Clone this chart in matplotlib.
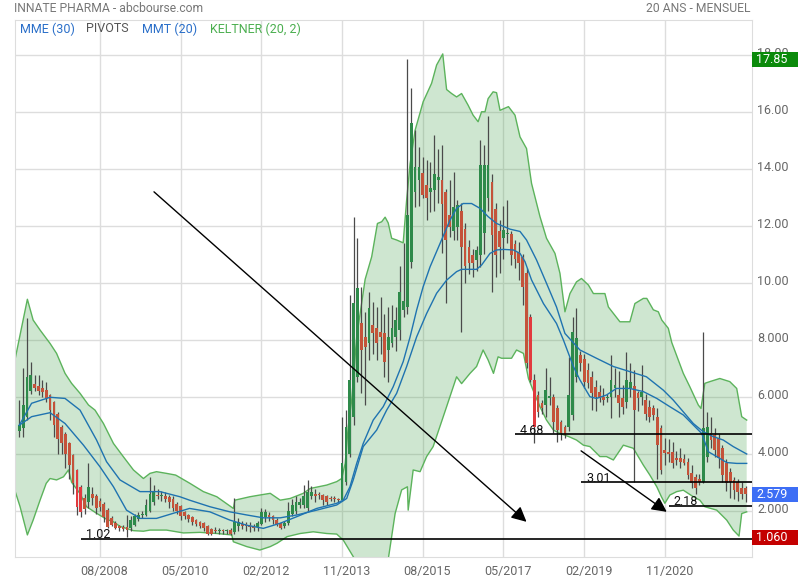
import matplotlib
matplotlib.use("Agg")
import matplotlib.pyplot as plt
import matplotlib.transforms as mtransforms
from matplotlib.patches import Rectangle
import numpy as np

plt.rcParams['font.family'] = ['Roboto', 'DejaVu Sans']

# monthly candles, index 0 = 11/2006, last = 08/2022
opens = [4.80, 4.90, 5.30, 6.20, 6.45, 6.37, 6.29, 6.23, 6.06, 5.82,
         5.40, 4.95, 4.70, 4.37, 3.96, 3.43, 2.84, 2.44, 2.30, 2.58,
         2.50, 2.35, 2.23, 2.02, 1.73, 1.58, 1.46, 1.44, 1.44, 1.38,
         1.50, 1.70, 1.84, 1.84, 2.00, 2.30, 2.55, 2.50, 2.50, 2.49,
         2.40, 2.25, 2.15, 1.95, 1.85, 1.78, 1.67, 1.62, 1.56, 1.48,
         1.35, 1.30, 1.29, 1.30, 1.28, 1.32, 1.25, 1.45, 1.55, 1.52,
         1.50, 1.47, 1.44, 1.55, 1.77, 1.85, 1.80, 1.67, 1.56, 1.48,
         1.56, 1.90, 2.00, 2.20, 2.20, 2.08, 2.50, 2.60, 2.56, 2.55,
         2.50, 2.43, 2.42, 2.40, 2.38, 3.00, 4.00, 5.30, 6.70, 8.58,
         8.10, 7.87, 8.51, 8.40, 8.28, 8.22, 7.64, 7.87, 8.10, 8.34,
         9.04, 9.16, 10.74, 13.19, 13.60, 13.86, 13.43, 13.20, 13.25, 13.60,
         13.60, 13.19, 12.38, 11.83, 11.97, 12.50, 11.90, 11.26, 10.97, 10.80,
         10.97, 11.76, 12.96, 13.54, 12.60, 11.80, 11.56, 11.70, 11.70, 11.36,
         11.08, 10.89, 10.35, 8.81, 6.60, 6.06, 5.77, 5.71, 5.94, 5.98,
         5.59, 5.13, 4.95, 4.95, 5.36, 6.70, 7.46, 7.31, 6.94, 6.70,
         6.35, 6.18, 6.00, 5.95, 6.00, 6.29, 6.06, 5.94, 5.83, 6.29,
         6.37, 6.12, 6.00, 5.88, 5.65, 5.59, 5.30, 4.89, 4.13, 4.07,
         4.07, 3.84, 3.84, 3.81, 3.72, 3.31, 3.19, 3.13, 3.02, 3.89,
         4.71, 4.66, 4.54, 4.19, 3.66, 3.37, 3.08, 3.02, 2.80, 2.78]
highs = [5.90, 7.00, 8.75, 7.23, 6.76, 6.76, 6.60, 6.50, 6.10, 5.85,
         5.45, 5.00, 4.75, 4.40, 4.00, 3.45, 2.90, 2.60, 3.66, 2.84,
         2.60, 2.45, 2.30, 2.10, 1.80, 1.65, 1.50, 1.50, 1.85, 1.80,
         1.90, 1.95, 2.00, 2.40, 3.20, 2.90, 2.75, 2.70, 2.65, 2.55,
         2.50, 2.30, 2.20, 2.00, 1.90, 1.80, 1.70, 1.65, 1.60, 1.50,
         1.40, 1.42, 1.40, 1.35, 1.35, 1.40, 2.43, 1.75, 1.65, 1.60,
         1.60, 1.55, 1.65, 2.10, 2.05, 1.95, 1.85, 1.75, 1.60, 1.65,
         2.30, 2.40, 2.50, 2.45, 2.90, 3.08, 2.85, 2.75, 2.65, 2.60,
         2.55, 2.50, 2.50, 2.45, 5.30, 5.53, 9.57, 12.30, 11.56, 9.86,
         8.98, 9.68, 9.33, 9.16, 9.50, 8.92, 9.16, 9.22, 9.16, 10.60,
         11.38, 17.85, 16.82, 15.35, 14.77, 14.42, 14.30, 14.25, 15.18, 14.70,
         14.83, 13.30, 13.60, 13.89, 12.90, 12.80, 12.10, 11.50, 11.20, 11.30,
         15.00, 14.83, 15.85, 13.80, 12.80, 12.20, 12.70, 12.90, 11.80, 11.50,
         11.44, 11.00, 10.50, 8.90, 6.80, 6.20, 5.90, 7.00, 6.70, 6.10,
         5.70, 5.20, 5.00, 7.40, 8.81, 9.10, 7.60, 7.50, 7.20, 6.90,
         6.60, 6.40, 6.30, 6.10, 7.46, 7.00, 6.90, 6.40, 7.57, 7.20,
         6.94, 6.20, 7.10, 6.10, 5.90, 5.70, 5.60, 5.00, 4.54, 4.50,
         4.40, 4.10, 4.20, 4.00, 3.85, 3.60, 3.30, 3.30, 8.28, 5.47,
         5.30, 4.90, 4.70, 4.30, 3.80, 3.50, 3.20, 3.10, 3.00, 2.85]
lows = [4.60, 4.60, 5.20, 6.10, 6.20, 6.06, 6.00, 5.80, 5.20, 4.60,
        4.00, 4.00, 3.50, 3.13, 2.60, 1.85, 1.79, 1.90, 2.10, 2.20,
        1.90, 2.00, 1.62, 1.40, 1.45, 1.35, 1.30, 1.30, 1.06, 1.30,
        1.45, 1.65, 1.75, 1.80, 1.95, 2.20, 2.40, 2.35, 2.30, 2.10,
        2.00, 1.90, 1.67, 1.70, 1.60, 1.50, 1.45, 1.40, 1.30, 1.15,
        1.15, 1.22, 1.20, 1.20, 1.20, 1.15, 1.20, 1.30, 1.35, 1.30,
        1.25, 1.30, 1.30, 1.50, 1.60, 1.65, 1.55, 1.45, 1.35, 1.40,
        1.50, 1.80, 1.90, 2.10, 2.10, 2.00, 2.40, 2.30, 2.40, 2.20,
        2.20, 2.35, 2.30, 2.30, 2.35, 2.90, 3.90, 5.00, 6.50, 6.12,
        5.71, 7.29, 7.50, 7.30, 7.50, 6.70, 6.50, 7.75, 7.60, 8.00,
        8.80, 8.90, 10.50, 12.67, 12.70, 12.96, 12.20, 12.49, 12.50, 12.80,
        11.03, 9.28, 11.60, 11.50, 11.50, 8.28, 9.98, 10.30, 10.20, 10.40,
        10.56, 11.00, 12.50, 9.68, 10.21, 10.33, 10.85, 11.40, 10.62, 10.50,
        10.10, 9.21, 7.00, 6.50, 4.36, 5.30, 5.40, 5.30, 5.70, 4.71,
        4.42, 4.48, 4.54, 4.80, 5.20, 6.50, 6.90, 6.30, 6.30, 5.53,
        5.50, 5.80, 5.70, 5.80, 5.24, 6.00, 5.30, 5.40, 5.60, 6.00,
        3.01, 5.50, 5.70, 5.20, 5.10, 5.20, 3.10, 3.30, 3.60, 3.70,
        3.50, 3.60, 3.50, 3.60, 3.10, 2.80, 2.60, 2.90, 2.98, 3.70,
        4.20, 3.90, 3.50, 3.00, 2.70, 2.45, 2.40, 2.35, 2.40, 2.30]
closes = [5.00, 5.70, 6.70, 6.76, 6.29, 6.20, 6.17, 5.97, 5.53, 5.00,
          4.53, 4.36, 4.00, 3.60, 2.96, 2.14, 1.96, 2.05, 2.84, 2.43,
          2.08, 2.14, 1.79, 1.44, 1.50, 1.38, 1.38, 1.35, 1.32, 1.67,
          1.81, 1.84, 1.90, 2.20, 2.60, 2.70, 2.50, 2.52, 2.40, 2.30,
          2.10, 2.00, 1.82, 1.80, 1.70, 1.60, 1.55, 1.48, 1.38, 1.20,
          1.20, 1.29, 1.30, 1.28, 1.29, 1.20, 1.60, 1.60, 1.45, 1.48,
          1.44, 1.38, 1.56, 1.95, 1.97, 1.77, 1.67, 1.50, 1.38, 1.56,
          2.00, 2.20, 2.31, 2.32, 2.50, 2.67, 2.67, 2.50, 2.54, 2.38,
          2.32, 2.42, 2.40, 2.38, 3.66, 4.95, 6.60, 9.28, 9.80, 7.64,
          7.75, 9.10, 8.22, 7.87, 8.10, 7.23, 8.10, 8.40, 8.70, 9.68,
          9.35, 12.38, 15.60, 14.07, 14.07, 13.07, 12.96, 13.31, 13.83, 13.72,
          12.78, 11.50, 11.97, 12.67, 12.73, 11.26, 10.60, 10.68, 10.68, 11.15,
          14.13, 14.13, 14.13, 11.67, 10.97, 11.27, 11.85, 11.76, 10.97, 10.85,
          10.68, 9.86, 7.17, 6.60, 4.95, 5.47, 5.60, 6.23, 6.02, 5.13,
          4.83, 4.71, 4.66, 6.06, 8.28, 8.05, 7.17, 6.53, 6.47, 6.12,
          6.00, 5.94, 5.88, 6.00, 6.59, 6.40, 5.77, 5.65, 6.59, 6.53,
          5.53, 5.94, 6.18, 5.40, 5.30, 5.36, 4.30, 3.42, 4.01, 3.99,
          3.66, 3.78, 3.72, 3.66, 3.25, 2.96, 2.78, 3.02, 4.89, 4.95,
          4.48, 4.13, 3.84, 3.25, 2.96, 3.02, 2.72, 2.67, 2.60, 2.58]
strong_drop_months = [15, 16, 133, 134]

# Keltner (20, 2) envelope (month index, value)
kelt_up_m = [-1.2, 2.1, 3.6, 5.4, 8.0, 9.7, 11.9, 13.6, 15.8, 18.0, 19.7, 21.9, 24.5, 27.1,
             29.7, 32.3, 34.0, 35.7, 38.3, 40.7, 44.4, 47.9, 51.4, 55.7, 56.1, 60.0, 62.6,
             65.3, 67.9, 70.5, 73.9, 75.7, 80.0, 82.6, 83.9, 84.8, 85.6, 86.5, 87.8, 90.0,
             91.7, 93.2, 94.3, 95.2, 96.0, 96.9, 98.2, 99.9, 100.8, 101.7, 103.0, 105.1,
             107.3, 108.6, 110.2, 111.2, 112.5, 113.8, 115.1, 116.8, 118.1, 119.4, 120.3,
             121.2, 122.0, 123.3, 124.2, 125.1, 127.3, 129.0, 130.3, 132.0, 133.3, 135.5,
             137.2, 139.4, 140.7, 142.0, 143.3, 145.0, 146.3, 148.1, 149.4, 152.4, 153.3,
             156.3, 158.9, 160.2, 162.4, 163.3, 165.0, 166.3, 167.2, 168.9, 169.8, 172.8,
             174.5, 176.7, 177.4, 178.4, 179.7, 182.3, 184.9, 186.7, 188.0, 189.3]
kelt_up = [7.25, 9.42, 8.69, 8.34, 7.87, 7.52, 6.82, 6.47, 6.12, 5.71, 5.53, 5.06, 4.36, 3.89,
           3.43, 3.13, 3.31, 3.37, 3.31, 3.25, 2.96, 2.67, 2.49, 2.08, 2.37, 2.49, 2.55,
           2.61, 2.37, 2.43, 2.61, 2.78, 2.90, 3.02, 3.13, 3.66, 4.95, 5.88, 8.10, 10.12,
           10.91, 12.08, 12.14, 12.30, 12.10, 11.56, 11.50, 11.40, 12.90, 14.18, 15.35, 16.35,
           17.00, 17.64, 18.03, 16.78, 16.64, 16.52, 16.64, 16.23, 15.88, 15.65, 16.00,
           16.00, 16.46, 16.70, 16.67, 16.05, 16.18, 15.88, 15.12, 14.71, 13.49, 12.32,
           11.56, 11.03, 10.33, 8.98, 9.62, 10.03, 10.15, 9.92, 9.62, 9.62, 9.15,
           8.63, 8.63, 9.27, 9.45, 9.45, 9.05, 8.98, 8.69, 8.40, 7.90, 6.82,
           6.35, 5.71, 5.59, 6.47, 6.53, 6.64, 6.53, 6.29, 5.30, 5.18]
kelt_low_m = [-1.2, 0.2, 2.1, 3.6, 5.4, 7.0, 8.0, 9.7, 11.5, 12.8, 13.6, 15.8, 17.5, 20.1,
              22.7, 24.5, 26.2, 29.7, 32.3, 34.0, 38.3, 42.7, 47.0, 51.4, 55.3, 55.7, 59.2,
              62.6, 65.3, 67.1, 69.7, 73.1, 76.5, 80.0, 82.6, 84.3, 85.6, 87.3, 89.0, 92.0,
              95.0, 96.5, 97.8, 99.5, 101.0, 101.2, 102.5, 104.3, 106.0, 107.7, 111.2, 113.8,
              115.1, 117.3, 119.0, 120.7, 122.0, 123.4, 124.6, 125.5, 128.1, 129.4, 131.2,
              132.5, 134.2, 135.5, 137.2, 139.0, 140.7, 143.0, 145.0, 146.8, 148.5, 151.1,
              152.8, 154.6, 157.2, 159.8, 162.4, 164.1, 165.9, 167.1, 168.0, 169.3, 171.1,
              172.8, 175.4, 177.1, 178.4, 181.5, 184.1, 185.8, 187.3, 188.0, 189.3]
kelt_low = [2.73, 2.14, 1.15, 1.67, 2.37, 2.96, 3.13, 3.08, 3.19, 3.43, 3.00, 2.60, 2.14, 1.91,
            1.70, 1.61, 1.45, 1.30, 1.28, 1.32, 1.32, 1.22, 1.24, 1.20, 1.15, 0.91, 0.74,
            0.62, 0.74, 0.86, 1.09, 1.20, 1.26, 1.20, 1.18, 0.97, 0.68, 0.30, -0.40, -0.90,
            -0.60, 0.73, 1.90, 2.73, 2.84, 2.02, 3.43, 3.37, 3.90, 4.25, 5.65, 6.70,
            6.46, 6.82, 7.06, 7.64, 7.29, 6.82, 7.40, 7.35, 7.35, 7.64, 7.52,
            6.64, 6.06, 5.65, 5.18, 4.83, 4.71, 4.60, 4.48, 4.30, 4.25, 3.90,
            3.90, 3.78, 4.30, 4.19, 3.60, 3.25, 2.84, 2.49, 2.26, 2.55, 2.67,
            2.72, 2.49, 2.37, 2.14, 2.02, 1.67, 1.32, 1.11, 1.90, 1.96]

# the two moving averages, MME (30) and MMT (20)
ma1_m = [0, 3.2, 8.0, 11.9, 16.7, 21.0, 24.5, 27.9, 31.4, 35.7, 40.1, 44.3, 49.6, 54.8, 59.2,
         63.5, 67.9, 72.2, 77.4, 82.6, 84.3, 86.05, 87.8, 89.5, 92.1, 94.7, 97.3, 99.9,
         101.7, 103.4, 105.1, 106.9, 109.5, 112.1, 113.8, 115.5, 117.7, 119.9, 122.0,
         124.2, 127.7, 130.3, 132.0, 134.6, 137.2, 139.8, 142.0, 145.9, 150.2, 154.6,
         158.9, 163.2, 167.6, 170.2, 172.8, 175.4, 178.0, 180.6, 183.2, 185.8, 189.3]
ma1 = [5.00, 5.30, 5.44, 5.06, 4.30, 3.54, 2.84, 2.02, 1.73, 1.73, 1.91, 2.08, 1.96, 1.67, 1.49,
       1.38, 1.56, 1.79, 2.08, 2.26, 2.37, 2.84, 3.66, 4.36, 5.18, 5.65, 6.35, 7.23,
       8.10, 9.04, 9.86, 10.56, 11.38, 12.20, 12.61, 12.78, 12.78, 12.61, 12.32,
       12.08, 11.88, 11.80, 11.50, 10.80, 9.98, 9.15, 8.22, 7.64, 7.35, 7.06,
       6.88, 6.70, 6.23, 5.88, 5.47, 5.06, 4.77, 4.60, 4.48, 4.25, 3.99]
ma2_m = [0, 3.2, 8.0, 11.9, 15.8, 20.1, 22.7, 26.2, 31.4, 36.6, 41.8, 44.3, 49.6, 54.8, 59.2,
         63.5, 67.9, 72.2, 77.4, 82.6, 85.2, 86.9, 89.5, 93.0, 95.6, 98.2, 100.8, 103.4,
         106.0, 108.6, 111.2, 113.8, 115.1, 119.0, 120.3, 122.5, 124.2, 126.0, 128.6,
         130.3, 131.6, 133.3, 136.4, 139.8, 141.6, 144.2, 145.9, 148.5, 150.2, 152.8,
         155.4, 158.9, 162.4, 165.9, 169.3, 172.8, 177.6, 179.3, 181.5, 184.1, 186.7, 189.3]
ma2 = [5.00, 5.77, 5.98, 5.94, 5.53, 4.48, 3.72, 3.08, 2.67, 2.67, 2.49, 2.37, 2.14, 1.96, 1.85,
       1.75, 1.75, 1.85, 2.02, 2.20, 2.43, 3.08, 4.25, 4.83, 5.53, 6.12, 7.06, 8.10,
       8.92, 9.63, 10.09, 10.39, 10.47, 10.47, 10.62, 11.03, 11.15, 11.17, 11.15,
       11.03, 10.74, 10.10, 9.27, 8.57, 7.99, 7.06, 6.59, 6.00, 5.94, 6.06,
       6.29, 6.29, 6.18, 5.94, 5.65, 5.36, 4.71, 4.07, 3.90, 3.69, 3.66, 3.66]

# pivots drawn on the chart: level, first month of the line
pivot_vals = [1.02, 4.68, 3.01, 2.18]
pivot_start = [16.05, 129.0, 146.2, 169.0]
# hand-drawn trend arrows: (start month, start value, end month, end value)
arrows = [(35.05, 13.19, 132.0, 1.61), (146.2, 4.10, 168.5, 1.96)]

tick_months = [21, 42, 63, 84, 105, 126, 147, 168]
tick_labels = ['08/2008', '05/2010', '02/2012', '11/2013', '08/2015', '05/2017', '02/2019', '11/2020']
y_ticks = [2, 4, 6, 8, 10, 12, 14, 16, 18]

box_vals = [17.85, 2.579, 1.060]
box_texts = ['17.85', '2.579', '1.060']
box_colors = ['#0b8a0b', '#3d6ef5', '#c40000']

W, H = 800, 580
fig = plt.figure(figsize=(W / 100, H / 100), dpi=100)
ax = fig.add_axes([14.7 / W, 1 - 556.7 / H, (751.7 - 14.7) / W, (556.7 - 20) / H])
ax.set_xlim(-1.2, 190.6)
ax.set_ylim(0.386, 19.22)

for s in ax.spines.values():
    s.set_color('#dddddd')
ax.set_axisbelow(True)
ax.grid(True, color='#dddddd', lw=1)
ax.set_xticks(tick_months)
ax.set_xticklabels(tick_labels)
ax.set_yticks(y_ticks)
ax.set_yticklabels([f"{v:.2f}" if v >= 10 else f"{v:.3f}" for v in y_ticks])
ax.yaxis.tick_right()
ax.tick_params(length=0, labelsize=9, labelcolor='#666666')
ax.tick_params(axis='x', pad=6)
ax.tick_params(axis='y', pad=4)
shift_x = mtransforms.ScaledTranslation(0.045, 0, fig.dpi_scale_trans)
for lab in ax.get_xticklabels():
    lab.set_transform(lab.get_transform() + shift_x)
shift_y = mtransforms.ScaledTranslation(0, 0.025, fig.dpi_scale_trans)
for lab in ax.get_yticklabels():
    lab.set_transform(lab.get_transform() + shift_y)

# Keltner band
poly_x = np.concatenate([kelt_up_m, kelt_low_m[::-1]])
poly_y = np.concatenate([kelt_up, kelt_low[::-1]])
ax.fill(poly_x, poly_y, color='#3f9f45', alpha=0.25, lw=0, zorder=1)
ax.plot(kelt_up_m, kelt_up, color='#5cb35c', lw=1, zorder=2)
ax.plot(kelt_low_m, kelt_low, color='#5cb35c', lw=1, zorder=2)

# candles
o = np.array(opens); h = np.array(highs); l = np.array(lows); c = np.array(closes)
x = np.arange(len(o))
cols = []
for i in range(len(o)):
    if c[i] >= o[i]:
        cols.append('#2e8a4a')
    elif i in strong_drop_months:
        cols.append('#e23a3e')
    else:
        cols.append('#c4533a')
ax.vlines(x, l, h, color='#4a4a4a', lw=0.9, zorder=3)
ax.bar(x, np.maximum(np.abs(c - o), 0.04), bottom=np.minimum(o, c), width=0.72,
       color=cols, lw=0, zorder=4)

# moving averages
ax.plot(ma1_m, ma1, color='#1f73b0', lw=1, zorder=5)
ax.plot(ma2_m, ma2, color='#1f73b0', lw=1, zorder=5)

# pivots
for v, m0 in zip(pivot_vals, pivot_start):
    ax.hlines(v, m0, 190.6, color='black', lw=1.2, zorder=6)
    ax.annotate(f"{v:.2f}", (m0, v), xytext=(3.6, 0.3), textcoords='offset points',
                fontsize=9, color='#111111', ha='left', va='baseline', zorder=6)

for m0, v0, m1, v1 in arrows:
    ax.annotate('', xy=(m1, v1), xytext=(m0, v0),
                arrowprops=dict(arrowstyle='-|>,head_length=0.9,head_width=0.45',
                                color='black', lw=1, mutation_scale=10, shrinkA=0, shrinkB=0),
                zorder=6)

# value boxes on the right
trans = mtransforms.blended_transform_factory(fig.transFigure, ax.transData)
for v, t, col in zip(box_vals, box_texts, box_colors):
    ax.add_patch(Rectangle((752 / W, v - 0.263), 46 / W, 0.526, transform=trans,
                           fc=col, ec='none', clip_on=False, zorder=8))
    ax.text(756 / W, v, t, transform=trans, color='white', fontsize=9,
            ha='left', va='center', clip_on=False, zorder=9)

# header and legend
fig.text(14 / W, 1 - 9 / H, 'INNATE PHARMA - abcbourse.com', fontsize=8.7, color='#777777',
         ha='left', va='center')
fig.text(750 / W, 1 - 9 / H, '20 ANS - MENSUEL', fontsize=8.7, color='#777777',
         ha='right', va='center')
legend_items = [('MME (30)', '#2a6fc9', 20), ('PIVOTS', '#555555', 86),
                ('MMT (20)', '#2a6fc9', 142), ('KELTNER (20, 2)', '#4caf50', 210)]
for txt, col, px in legend_items:
    fig.text(px / W, 1 - 29 / H, txt, fontsize=9, color=col, ha='left', va='center')

fig.savefig('out.png', dpi=100)
